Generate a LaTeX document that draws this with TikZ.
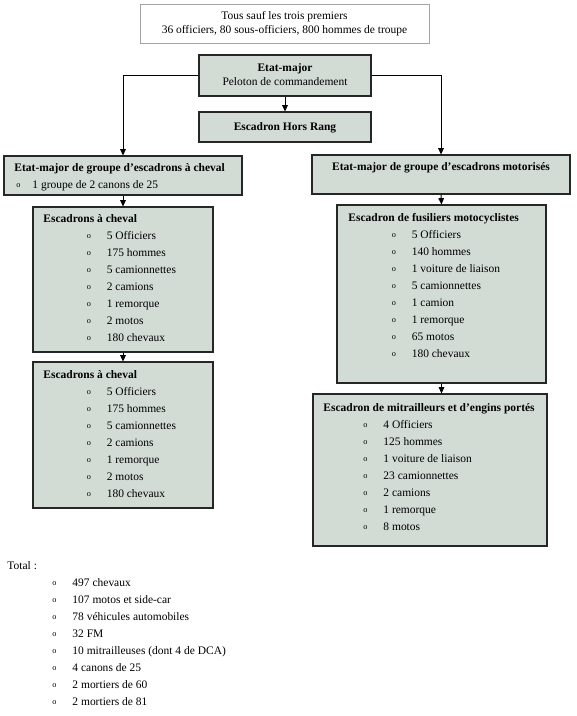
\documentclass[tikz,border=0pt]{standalone}
\usepackage{fontspec}
\setmainfont{Liberation Serif}
\usetikzlibrary{arrows.meta,fit}
\definecolor{boxfill}{RGB}{211,219,213}
\definecolor{topframe}{RGB}{165,165,165}
\newcommand{\rond}{\raisebox{0.25ex}{\fontsize{7}{7}\selectfont o}}
\newcommand{\puce}[2][1.3cm]{\hspace*{#1}\makebox[0.6cm][l]{\rond}#2}
\tikzset{
  box/.style={draw=black!85, fill=boxfill, line width=0.9pt, inner sep=0pt},
  txt/.style={inner sep=0pt, align=left, font=\fontsize{9.8}{14.5}\selectfont},
  ctxt/.style={inner sep=0pt, align=center, font=\fontsize{9.8}{11.5}\selectfont},
}
\begin{document}
\begin{tikzpicture}[x=0.03cm, y=-0.03cm, line width=0.8pt, >={Triangle[length=1.9mm,width=1.7mm]}]
  \useasboundingbox (0,0) rectangle (576,716);
  % en-tete
  \node[box, draw=topframe, fill=white, line width=0.6pt, fit={(140,4) (429,43)}] (tous) {};
  \node[ctxt, font=\fontsize{9.8}{12}\selectfont] at (284.5,24) {Tous sauf les trois premiers\\36 officiers, 80 sous-officiers, 800 hommes de troupe};
  \node[box, fit={(199,55) (371,96)}] (etatmajor) {};
  \node[ctxt] at (285,74.5) {\textbf{Etat-major}\\Peloton de commandement};
  \node[box, fit={(199,112) (371,142)}] (horsrang) {};
  \node[ctxt, font=\fontsize{9.8}{11.5}\selectfont\bfseries] at (285,127.5) {Escadron Hors Rang};
  \draw[->] (etatmajor.south) -- (horsrang.north);

  % groupe a cheval
  \node[box, fit={(4,156) (242,195)}] (emcheval) {};
  \node[txt, anchor=north west] at (14,163) {\textbf{Etat-major de groupe d'escadrons à cheval}\\
    \hspace*{0.06cm}\makebox[0.48cm][l]{\rond}1 groupe de 2 canons de 25};
  \node[box, fit={(33,207) (213,352)}] (cheval1) {};
  \node[txt, anchor=north west] at (43,214) {\textbf{Escadrons à cheval}\\
    \puce{5 Officiers}\\ \puce{175 hommes}\\ \puce{5 camionnettes}\\ \puce{2 camions}\\
    \puce{1 remorque}\\ \puce{2 motos}\\ \puce{180 chevaux}};
  \node[box, fit={(33,362) (213,508)}] (cheval2) {};
  \node[txt, anchor=north west] at (43,370) {\textbf{Escadrons à cheval}\\
    \puce{5 Officiers}\\ \puce{175 hommes}\\ \puce{5 camionnettes}\\ \puce{2 camions}\\
    \puce{1 remorque}\\ \puce{2 motos}\\ \puce{180 chevaux}};
  \draw[->] (etatmajor.west) -| (emcheval.north);
  \draw[->] (emcheval.south) -- (cheval1.north);
  \draw[->] (cheval1.south) -- (cheval2.north);

  % groupe motorise
  \node[box, fit={(312,155) (570,194)}] (emmoto) {};
  \node[txt, anchor=north] at (441,162) {\textbf{Etat-major de groupe d’escadrons motorisés}};
  \node[box, fit={(337,205) (546,383)}] (fusiliers) {};
  \node[txt, anchor=north west] at (348,213) {\textbf{Escadron de fusiliers motocyclistes}\\
    \puce{5 Officiers}\\ \puce{140 hommes}\\ \puce{1 voiture de liaison}\\ \puce{5 camionnettes}\\
    \puce{1 camion}\\ \puce{1 remorque}\\ \puce{65 motos}\\ \puce{180 chevaux}};
  \node[box, fit={(313,394) (547,546)}] (mitrailleurs) {};
  \node[txt, anchor=north west] at (323,403) {\textbf{Escadron de mitrailleurs et d’engins portés}\\
    \puce[1.2cm]{4 Officiers}\\ \puce[1.2cm]{125 hommes}\\ \puce[1.2cm]{1 voiture de liaison}\\
    \puce[1.2cm]{23 camionnettes}\\ \puce[1.2cm]{2 camions}\\ \puce[1.2cm]{1 remorque}\\ \puce[1.2cm]{8 motos}};
  \draw[->] (etatmajor.east) -| (emmoto.north);
  \draw[->] (emmoto.south) -- (fusiliers.north);
  \draw[->] (fusiliers.south) -- (fusiliers.south |- mitrailleurs.north);

  % total
  \node[txt, anchor=north west] (total) at (7,561) {Total :\\
    \puce[1.35cm]{497 chevaux}\\ \puce[1.35cm]{107 motos et side-car}\\ \puce[1.35cm]{78 véhicules automobiles}\\
    \puce[1.35cm]{32 FM}\\ \puce[1.35cm]{10 mitrailleuses (dont 4 de DCA)}\\ \puce[1.35cm]{4 canons de 25}\\
    \puce[1.35cm]{2 mortiers de 60}\\ \puce[1.35cm]{2 mortiers de 81}};
\end{tikzpicture}
\end{document}
